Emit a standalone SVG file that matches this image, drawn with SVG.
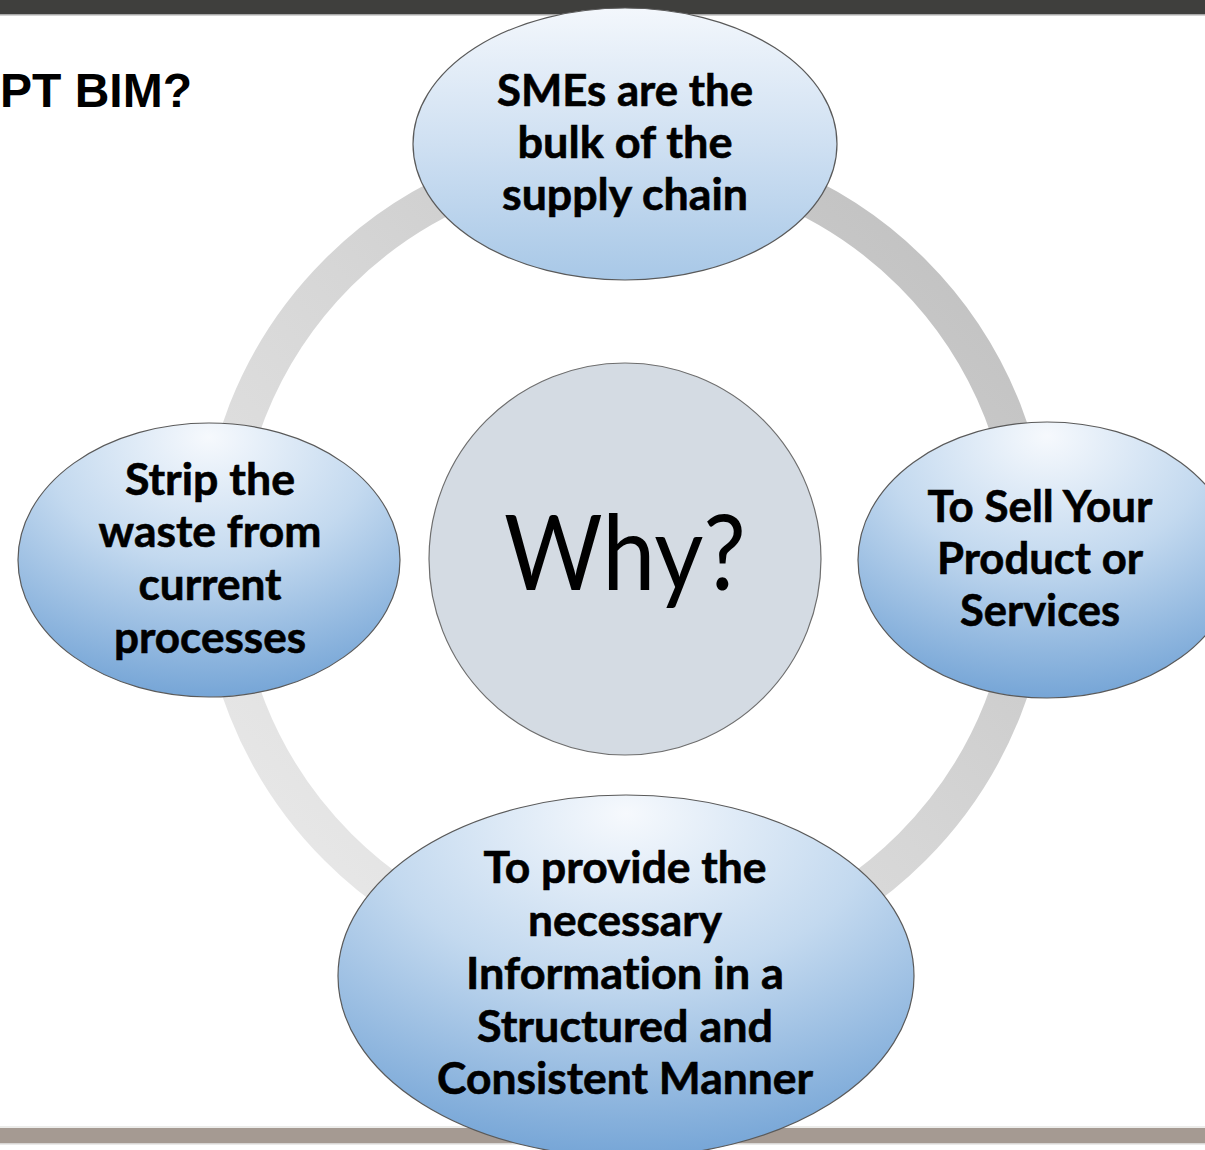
<svg xmlns="http://www.w3.org/2000/svg" width="1205" height="1150" viewBox="0 0 1205 1150">
<defs>
<linearGradient id="ringGrad" x1="1" y1="0" x2="0" y2="1">
<stop offset="0" stop-color="#bdbdbd"/>
<stop offset="0.5" stop-color="#d6d6d6"/>
<stop offset="1" stop-color="#ececec"/>
</linearGradient>
<linearGradient id="topGrad" x1="0" y1="0" x2="0" y2="1">
<stop offset="0" stop-color="#f3f7fc"/>
<stop offset="0.5" stop-color="#cfe0f2"/>
<stop offset="1" stop-color="#a8c8e7"/>
</linearGradient>
<radialGradient id="blueGrad" cx="0.5" cy="0.12" r="0.95" fx="0.5" fy="0.05">
<stop offset="0" stop-color="#f6f9fd"/>
<stop offset="0.45" stop-color="#c3d9ef"/>
<stop offset="1" stop-color="#6b9ed3"/>
</radialGradient>
</defs>
<style>
.node{stroke:#5a5a5a;stroke-width:1.2}
.lbl{font-family:Lato,"Open Sans","Liberation Sans",sans-serif;font-weight:bold;font-size:44px;fill:#000;text-anchor:middle;font-variant-ligatures:none;stroke:#000;stroke-width:0.6}
</style>
<rect x="0" y="0" width="1205" height="1150" fill="#ffffff"/>
<rect x="0" y="0" width="1205" height="14" fill="#3f3f3d"/>
<rect x="0" y="14" width="1205" height="1.5" fill="#a8a8a8"/>
<rect x="0" y="1126" width="1205" height="2" fill="#ececea"/>
<rect x="0" y="1128" width="1205" height="15" fill="#a59a92"/>
<rect x="0" y="1143" width="1205" height="1.5" fill="#d8d6d4"/>
<text x="0" y="107" font-family="Liberation Sans,Arial,sans-serif" font-weight="bold" font-size="48" fill="#000">PT BIM?</text>
<g id="connectors">
<circle cx="625" cy="560" r="406" fill="none" stroke="url(#ringGrad)" stroke-width="38"/>
</g>
<g id="center">
<circle cx="625" cy="559" r="196" fill="#d4dbe3" stroke="#6e6e6e" stroke-width="1.2"/>
<text x="625" y="590" font-family="Lato,'Open Sans',sans-serif" font-size="104" text-anchor="middle" textLength="242" lengthAdjust="spacingAndGlyphs" fill="#000">Why?</text>
</g>
<g id="node-top">
<ellipse class="node" cx="625" cy="144" rx="212" ry="136" fill="url(#topGrad)"/>
<text class="lbl" x="625" y="106" textLength="256" lengthAdjust="spacingAndGlyphs">SMEs are the</text>
<text class="lbl" x="625" y="158" textLength="215" lengthAdjust="spacingAndGlyphs">bulk of the</text>
<text class="lbl" x="625" y="210" textLength="246" lengthAdjust="spacingAndGlyphs">supply chain</text>
</g>
<g id="node-left">
<ellipse class="node" cx="209" cy="560" rx="191" ry="137" fill="url(#blueGrad)"/>
<text class="lbl" x="210" y="495" textLength="170" lengthAdjust="spacingAndGlyphs">Strip the</text>
<text class="lbl" x="210" y="547" textLength="223" lengthAdjust="spacingAndGlyphs">waste from</text>
<text class="lbl" x="210" y="600" textLength="143" lengthAdjust="spacingAndGlyphs">current</text>
<text class="lbl" x="210" y="653" textLength="192" lengthAdjust="spacingAndGlyphs">processes</text>
</g>
<g id="node-right">
<ellipse class="node" cx="1047" cy="560" rx="189" ry="138" fill="url(#blueGrad)"/>
<text class="lbl" x="1040" y="522" textLength="225" lengthAdjust="spacingAndGlyphs">To Sell Your</text>
<text class="lbl" x="1040" y="574" textLength="206" lengthAdjust="spacingAndGlyphs">Product or</text>
<text class="lbl" x="1040" y="626" textLength="160" lengthAdjust="spacingAndGlyphs">Services</text>
</g>
<g id="node-bottom">
<ellipse class="node" cx="626" cy="976" rx="288" ry="181" fill="url(#blueGrad)"/>
<text class="lbl" x="625" y="883" textLength="283" lengthAdjust="spacingAndGlyphs">To provide the</text>
<text class="lbl" x="625" y="936" textLength="194" lengthAdjust="spacingAndGlyphs">necessary</text>
<text class="lbl" x="625" y="989" textLength="318" lengthAdjust="spacingAndGlyphs">Information in a</text>
<text class="lbl" x="625" y="1042" textLength="296" lengthAdjust="spacingAndGlyphs">Structured and</text>
<text class="lbl" x="625" y="1094" textLength="376" lengthAdjust="spacingAndGlyphs">Consistent Manner</text>
</g>
</svg>
